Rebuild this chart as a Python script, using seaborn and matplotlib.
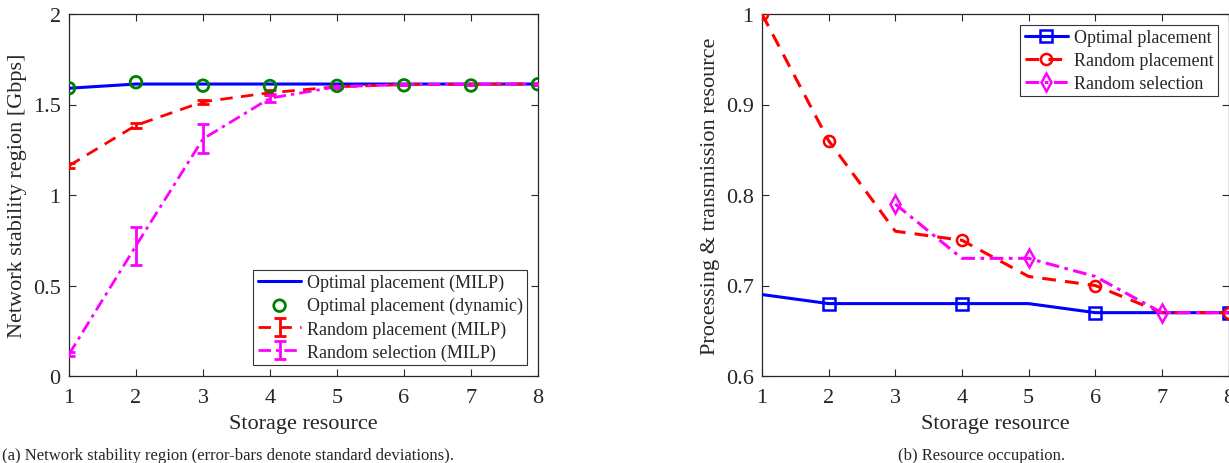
import numpy as np
import matplotlib
matplotlib.use("Agg")
import matplotlib.pyplot as plt
import seaborn as sns
import pandas as pd

# ---- data ----
storage = [1, 2, 3, 4, 5, 6, 7, 8]
opt_milp = [1.59, 1.613, 1.613, 1.613, 1.613, 1.613, 1.613, 1.613]
opt_dyn = [1.59, 1.623, 1.604, 1.602, 1.603, 1.606, 1.605, 1.612]
rand_place = [1.162, 1.385, 1.515, 1.565, 1.598, 1.610, 1.612, 1.613]
rand_place_sd = [0.013, 0.014, 0.011, 0.014, 0.006, 0.004, 0.003, 0.003]
rand_sel = [0.12, 0.72, 1.31, 1.535, 1.598, 1.610, 1.612, 1.613]
rand_sel_sd = [0.01, 0.105, 0.08, 0.022, 0.006, 0.004, 0.003, 0.003]

res_opt = [0.69, 0.68, 0.68, 0.68, 0.68, 0.67, 0.67, 0.67]
res_rand_place = [1.0, 0.86, 0.76, 0.75, 0.71, 0.70, 0.67, 0.67]
res_rand_sel = [np.nan, np.nan, 0.79, 0.73, 0.73, 0.71, 0.67, 0.67]

xticks = [1, 2, 3, 4, 5, 6, 7, 8]
yticks_a = [0, 0.5, 1, 1.5, 2]
yticklabels_a = ["0", "0.5", "1", "1.5", "2"]
yticks_b = [0.6, 0.7, 0.8, 0.9, 1.0]
yticklabels_b = ["0.6", "0.7", "0.8", "0.9", "1"]

sns.set_theme(style="ticks")
plt.rcParams['font.family'] = ['Liberation Serif', 'DejaVu Serif']

W, H = 1229, 464
fig = plt.figure(figsize=(W / 100, H / 100), dpi=100)

def px_axes(l, r, t, b):
    return fig.add_axes([l / W, 1 - b / H, (r - l) / W, (b - t) / H])

ax1 = px_axes(69, 538, 15, 377)
ax2 = px_axes(762, 1228.5, 15, 377)

BLUE = (0, 0, 1)
GREEN = (0, 0.5, 0)
RED = (1, 0, 0)
MAG = (1, 0, 1)

# ---- panel (a) ----
df_a = pd.DataFrame({"x": storage, "opt": opt_milp, "dyn": opt_dyn})
sns.lineplot(data=df_a, x="x", y="opt", ax=ax1, color=BLUE, lw=2.2,
             label="Optimal placement (MILP)", zorder=3)
sns.scatterplot(data=df_a, x="x", y="dyn", ax=ax1, marker="o", s=70,
                facecolor="none", edgecolor=GREEN, linewidth=2,
                label="Optimal placement (dynamic)", zorder=5)
ax1.errorbar(storage, rand_place, yerr=rand_place_sd, color=RED, ls=(0, (4.5, 3)),
             lw=2, capsize=4, capthick=2, elinewidth=2,
             label="Random placement (MILP)", zorder=4)
ax1.errorbar(storage, rand_sel, yerr=rand_sel_sd, color=MAG, ls=(0, (4.5, 1.8, 1.2, 1.8)),
             lw=2, capsize=4, capthick=2, elinewidth=2,
             label="Random selection (MILP)", zorder=4)
ax1.set_xlim(1, 8)
ax1.set_ylim(0, 2)
ax1.set_xticks(xticks)
ax1.set_yticks(yticks_a)
ax1.set_yticklabels(yticklabels_a)
ax1.set_xlabel("Storage resource", fontsize=16, labelpad=5)
ax1.set_ylabel("Network stability region [Gbps]", fontsize=16, labelpad=4)
leg1 = ax1.legend(loc="lower right", fontsize=13, frameon=True, fancybox=False,
                  edgecolor="black", borderpad=0.25, labelspacing=0.32,
                  handlelength=2.4, handletextpad=0.3, borderaxespad=0.6)
leg1.get_frame().set_linewidth(0.8)

# ---- panel (b) ----
df_b = pd.DataFrame({"x": storage, "opt": res_opt, "rp": res_rand_place, "rs": res_rand_sel})
sns.lineplot(data=df_b, x="x", y="opt", ax=ax2, color=BLUE, lw=2.2,
             marker="s", markersize=9, markerfacecolor="none", markeredgecolor=BLUE,
             markeredgewidth=1.8, markevery=[1, 3, 5, 7],
             label="Optimal placement", zorder=3)
sns.lineplot(data=df_b, x="x", y="rp", ax=ax2, color=RED, lw=2.2,
             ls=(0, (4.5, 3)), marker="o", markersize=8, markerfacecolor="none",
             markeredgecolor=RED, markeredgewidth=1.8, markevery=[0, 1, 3, 5, 7],
             label="Random placement", zorder=4)
sns.lineplot(data=df_b.dropna(), x="x", y="rs", ax=ax2, color=MAG, lw=2.2,
             ls=(0, (4.5, 1.8, 1.2, 1.8)), marker="d", markersize=9,
             markerfacecolor="none", markeredgecolor=MAG, markeredgewidth=1.8,
             markevery=[0, 2, 4], label="Random selection", zorder=5)
ax2.set_xlim(1, 8)
ax2.set_ylim(0.6, 1.0)
ax2.set_xticks(xticks)
ax2.set_yticks(yticks_b)
ax2.set_yticklabels(yticklabels_b)
ax2.set_xlabel("Storage resource", fontsize=16, labelpad=5)
ax2.set_ylabel("Processing & transmission resource", fontsize=16, labelpad=4)
leg2 = ax2.legend(loc="upper right", fontsize=13, frameon=True, fancybox=False,
                  edgecolor="black", borderpad=0.25, labelspacing=0.32,
                  handlelength=2.4, handletextpad=0.3, borderaxespad=0.6)
leg2.get_frame().set_linewidth(0.8)

for ax in (ax1, ax2):
    ax.tick_params(direction="in", top=True, right=True, labelsize=16,
                   length=5, width=0.8, colors="#262626")
    ax.tick_params(axis="x", pad=9)
    ax.tick_params(axis="y", pad=6)
    for sp in ax.spines.values():
        sp.set_visible(True)
        sp.set_linewidth(0.9)
        sp.set_color("#262626")
    ax.set_facecolor("white")

fig.text(2 / W, 1 - 456 / H, "(a) Network stability region (error-bars denote standard deviations).",
         fontsize=12, ha="left", va="center")
fig.text(982 / W, 1 - 456 / H, "(b) Resource occupation.", fontsize=12, ha="center", va="center")

fig.savefig("out.png", dpi=100, facecolor="white")
